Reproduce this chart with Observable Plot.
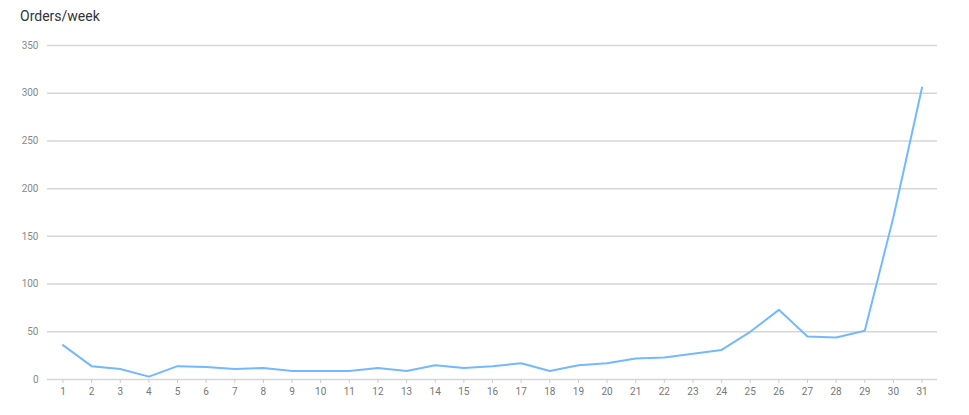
<!DOCTYPE html>
<html>
<head>
<meta charset="utf-8">
<script src="https://cdn.jsdelivr.net/npm/d3@7"></script>
<script src="https://cdn.jsdelivr.net/npm/@observablehq/plot@0.6"></script>
<style>
  html, body { margin: 0; padding: 0; background: #fff; }
  #title { height: 30px; box-sizing: border-box; padding: 8px 0 0 20px; font-family: Roboto, "DejaVu Sans", sans-serif; font-size: 14px; color: #333; line-height: 16px; }
  svg { display: block; }
</style>
</head>
<body>
<div id="title">Orders/week</div>
<div id="chart"></div>
<script>
const weeks = Array.from({length: 31}, (_, i) => i + 1);
const orders = [36, 14, 11, 3, 14, 13, 11, 12, 9, 9, 9, 12, 9, 15, 12, 14, 17, 9, 15, 17, 22, 23, 27, 31, 50, 73, 45, 44, 51, 170, 306];
const yTicks = [0, 50, 100, 150, 200, 250, 300, 350];

const data = weeks.map((w, i) => ({week: w, orders: orders[i]}));

const chart = Plot.plot({
  width: 969,
  height: 385,
  marginTop: 15,
  marginBottom: 36,
  marginLeft: 47,
  marginRight: 32,
  style: {fontFamily: "Roboto, 'DejaVu Sans', sans-serif", fontSize: "10px", background: "#fff"},
  x: {type: "point", domain: weeks, padding: 0.54, round: false, label: null},
  y: {domain: [0, 350], label: null},
  marks: [
    Plot.ruleY(yTicks, {stroke: "#d6d6d6", strokeWidth: 1.5}),
    Plot.axisY({ticks: yTicks, tickSize: 0, tickPadding: 9, fill: "#888", label: null}),
    Plot.axisX({ticks: weeks, tickSize: 4, tickPadding: 4, stroke: "#ccc", fill: "#777", label: null}),
    Plot.line(data, {x: "week", y: "orders", stroke: "#74b9ff", strokeWidth: 2})
  ]
});
document.getElementById("chart").appendChild(chart);
</script>
</body>
</html>
